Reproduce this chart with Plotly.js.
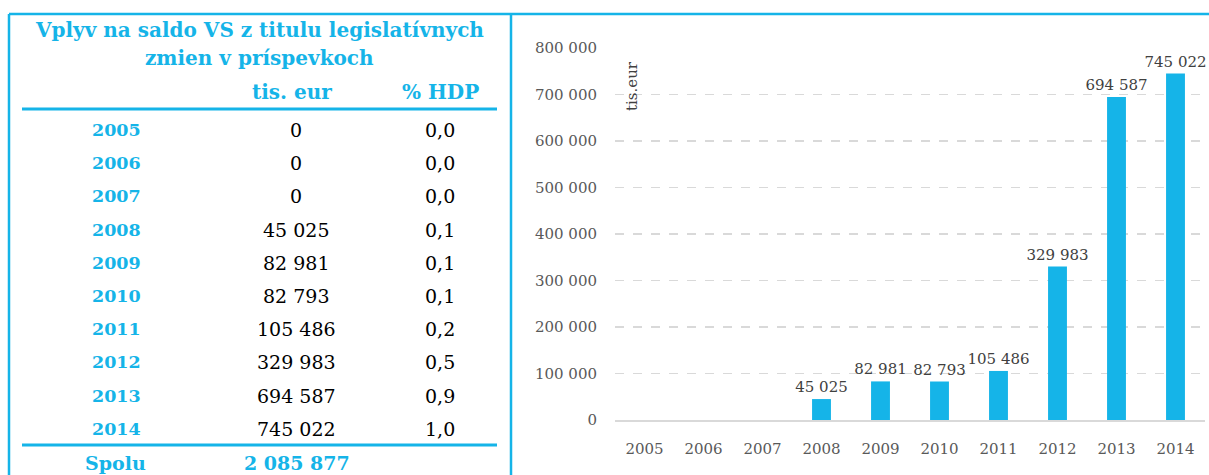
<!DOCTYPE html>
<html>
<head>
<meta charset="utf-8">
<script src="https://cdn.plot.ly/plotly-3.0.1.min.js"></script>
<style>html,body{margin:0;padding:0;background:#fff;}#chart{width:1209px;height:475px;}</style>
</head>
<body>
<div id="chart"></div>
<script>
const years = ['2005','2006','2007','2008','2009','2010','2011','2012','2013','2014'];
const valuesTisEur = [0, 0, 0, 45025, 82981, 82793, 105486, 329983, 694587, 745022];
const pctHDP = ['0,0','0,0','0,0','0,1','0,1','0,1','0,2','0,5','0,9','1,0'];
const tableTitle = ['Vplyv na saldo VS z titulu legislatívnych', 'zmien v príspevkoch'];
const colHeaders = ['tis. eur', '% HDP'];
const totalLabel = 'Spolu';
const yAxisLabel = 'tis.eur';
const yTicks = [0, 100000, 200000, 300000, 400000, 500000, 600000, 700000, 800000];

const W = 1209, H = 475;
const BLUE = '#15B4E8';
const SERIF = '"DejaVu Serif", "Liberation Serif", serif';
const px = x => x / W;
const py = y => 1 - y / H;
const fmt = v => String(v).replace(/\B(?=(\d{3})+(?!\d))/g, ' ');

const total = valuesTisEur.reduce((a, b) => a + b, 0);

const annotations = [];
const shapes = [];

// frame
const frameLine = {color: BLUE, width: 2.5};
shapes.push({type:'line', xref:'paper', yref:'paper', x0:px(9), x1:px(1209), y0:py(14), y1:py(14), line:frameLine});
shapes.push({type:'line', xref:'paper', yref:'paper', x0:px(9), x1:px(9), y0:py(14), y1:py(475), line:frameLine});
shapes.push({type:'line', xref:'paper', yref:'paper', x0:px(511), x1:px(511), y0:py(14), y1:py(475), line:frameLine});
// table rules
shapes.push({type:'line', xref:'paper', yref:'paper', x0:px(22), x1:px(497), y0:py(109), y1:py(109), line:{color:BLUE, width:3}});
shapes.push({type:'line', xref:'paper', yref:'paper', x0:px(22), x1:px(497), y0:py(445), y1:py(445), line:{color:BLUE, width:3}});

function ann(text, x, y, size, color, bold, extra) {
  annotations.push(Object.assign({
    text: bold ? '<b>' + text + '</b>' : text,
    xref:'paper', yref:'paper', x:px(x), y:py(y),
    xanchor:'center', yanchor:'middle', showarrow:false,
    font:{family:SERIF, size:size, color:color}
  }, extra || {}));
}

ann(tableTitle[0], 259, 30, 20, BLUE, true);
ann(tableTitle[1], 259, 58, 20, BLUE, true);
ann(colHeaders[0], 292, 92, 20, BLUE, true);
ann(colHeaders[1], 440, 92, 20, BLUE, true);

years.forEach((yr, i) => {
  const y = 130 + i * 33.2;
  ann(yr, 116, y, 17.5, BLUE, true);
  ann(fmt(valuesTisEur[i]), 296, y, 19, '#000000', false);
  ann(pctHDP[i], 440, y, 19, '#000000', false);
});
ann(totalLabel, 115, 463, 19, BLUE, true);
ann(fmt(total), 297, 463, 19, BLUE, true);

// y-axis unit label
ann(yAxisLabel, 632, 86, 15, '#404040', false, {textangle:-90});

const trace = {
  type:'bar',
  x: years,
  y: valuesTisEur,
  marker:{color: BLUE},
  width: 0.32,
  text: valuesTisEur.map(v => v > 0 ? fmt(v) : ''),
  textposition:'outside',
  constraintext:'none',
  textfont:{family:SERIF, size:15, color:'#404040'},
  cliponaxis:false,
  hoverinfo:'none'
};

const layout = {
  width: W, height: H,
  margin:{l:0, r:0, t:0, b:0},
  paper_bgcolor:'#ffffff', plot_bgcolor:'#ffffff',
  separators:', ',
  showlegend:false,
  font:{family:SERIF, color:'#595959'},
  xaxis:{
    domain:[px(615), px(1205)],
    type:'category',
    showgrid:false,
    showline:true, linecolor:'#d9d9d9', linewidth:1.5,
    ticks:'outside', ticklen:14, tickcolor:'rgba(0,0,0,0)',
    tickfont:{family:SERIF, size:15, color:'#595959'}
  },
  yaxis:{
    domain:[py(420), py(48)],
    range:[0, 800000],
    tickvals: yTicks,
    tickformat:',d',
    showgrid:true, gridcolor:'#d9d9d9', griddash:'dash', gridwidth:1.5,
    zeroline:false, showline:false,
    ticks:'outside', ticklen:14, tickcolor:'rgba(0,0,0,0)',
    tickfont:{family:SERIF, size:15, color:'#595959'}
  },
  shapes: shapes,
  annotations: annotations
};

Plotly.newPlot('chart', [trace], layout, {displayModeBar:false, staticPlot:true});
</script>
</body>
</html>
